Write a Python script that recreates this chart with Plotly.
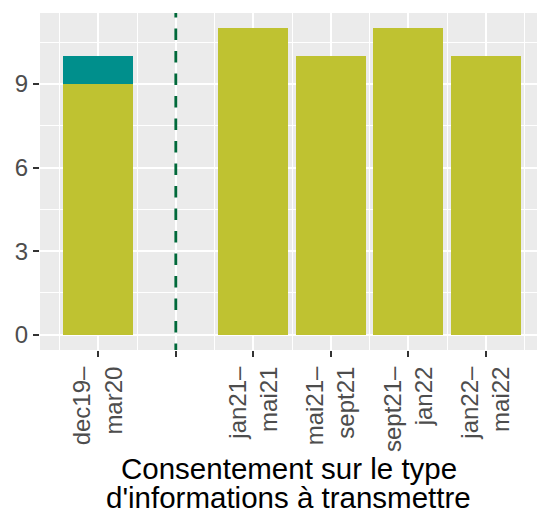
import plotly.graph_objects as go

# Periods on the x axis; the empty slot marks the break between the two survey phases
periods = ["dec19–<br>mar20", "", "jan21–<br>mai21", "mai21–<br>sept21",
           "sept21–<br>jan22", "jan22–<br>mai22"]
# Counts per period, stacked bottom to top
counts_main = [9, None, 11, 10, 11, 10]
counts_other = [1, None, 0, 0, 0, 0]

y_ticks = [0, 3, 6, 9]

OLIVE = "#BFC231"
TEAL = "#008F8C"
BREAK_GREEN = "#00693A"
PANEL = "#EBEBEB"
TICK_TEXT = "#4D4D4D"
FONT = "Liberation Sans, Arial, Helvetica, sans-serif"

positions = list(range(1, len(periods) + 1))
break_pos = positions[periods.index("")]

y_max = max((a or 0) + (b or 0) for a, b in zip(counts_main, counts_other))
y_pad = 0.05 * y_max
y_range = [-y_pad, y_max + y_pad]

fig = go.Figure()
fig.add_trace(go.Bar(x=positions, y=counts_main, width=0.9,
                     marker=dict(color=OLIVE, line=dict(width=0)),
                     showlegend=False, hoverinfo="skip"))
fig.add_trace(go.Bar(x=positions, y=counts_other, width=0.9,
                     marker=dict(color=TEAL, line=dict(width=0)),
                     showlegend=False, hoverinfo="skip"))

# Dashed separator at the break slot
fig.add_shape(type="line", xref="x", yref="y",
              x0=break_pos, x1=break_pos,
              y0=y_range[1] + 0.25, y1=y_range[0] - 0.5,
              line=dict(color=BREAK_GREEN, width=2.8, dash="11.5px,11px"),
              layer="above")

# Two-line x-axis title
title_lines = ["Consentement sur le type", "d'informations à transmettre"]
for line, ypos in zip(title_lines, [-0.352, -0.437]):
    fig.add_annotation(text=line, xref="paper", yref="paper", x=0.5, y=ypos,
                       xanchor="center", yanchor="middle", showarrow=False,
                       font=dict(family=FONT, size=29.5, color="black"))

fig.update_layout(
    width=537, height=512,
    margin=dict(l=40, r=0, t=13, b=162),
    paper_bgcolor="white", plot_bgcolor=PANEL,
    barmode="stack", bargap=0,
    font=dict(family=FONT, size=24, color=TICK_TEXT),
)
fig.update_xaxes(
    range=[0.248, 6.66], tickmode="array", tickvals=positions, ticktext=periods,
    tickangle=-90, ticks="outside", ticklen=6, tickwidth=2.2, tickcolor="#333333",
    tickfont=dict(family=FONT, size=24, color=TICK_TEXT),
    showgrid=True, gridcolor="white", gridwidth=2.2, zeroline=False,
    showline=False,
    minor=dict(tickvals=[p - 0.5 for p in positions] + [positions[-1] + 0.5],
               showgrid=True, gridcolor="white", gridwidth=1.1),
)
fig.update_yaxes(
    range=y_range, tickmode="array", tickvals=y_ticks,
    ticks="outside", ticklen=6, tickwidth=2.2, tickcolor="#333333",
    tickfont=dict(family=FONT, size=24, color=TICK_TEXT),
    showgrid=True, gridcolor="white", gridwidth=2.2, zeroline=False,
    showline=False,
    minor=dict(tickvals=[t + 1.5 for t in y_ticks],
               showgrid=True, gridcolor="white", gridwidth=1.1),
)

fig.write_html("out.html")
